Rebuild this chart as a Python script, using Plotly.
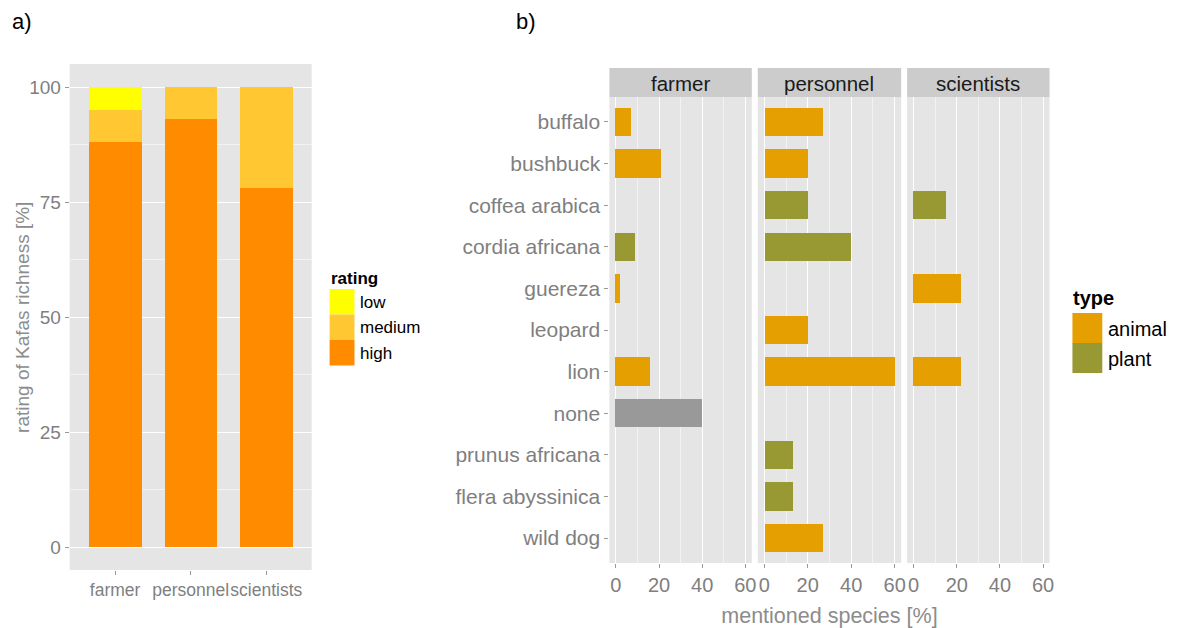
import plotly.graph_objects as go

# ---------------- data ----------------
groups = ["farmer", "personnel", "scientists"]
rating_high = [88, 93, 78]
rating_medium = [7, 7, 22]
rating_low = [5, 0, 0]

species = ["buffalo", "bushbuck", "coffea arabica", "cordia africana", "guereza",
           "leopard", "lion", "none", "prunus africana", "flera abyssinica", "wild dog"]
species_type = ["animal", "animal", "plant", "plant", "animal",
                "animal", "animal", "none", "plant", "plant", "animal"]
farmer_pct = [7, 21, None, 9, 2, None, 16, 40, None, None, None]
personnel_pct = [26.7, 20, 20, 40, None, 20, 60, None, 13.3, 13.3, 26.7]
scientists_pct = [None, None, 15, None, 22, None, 22, None, None, None, None]
x_ticks_b = [0, 20, 40, 60]
y_ticks_a = [0, 25, 50, 75, 100]

# ---------------- style ----------------
W, H = 1178, 628
FONT = "Liberation Sans, Arial, sans-serif"
GREY_TXT = "#7F7F7F"
rating_colors = {"low": "#FFFF00", "medium": "#FFC832", "high": "#FF8C00"}
type_colors = {"animal": "#E69F00", "plant": "#999933", "none": "#999999"}
PANEL_BG = "#E5E5E5"


def fx(px):
    return px / W


def fy(py):
    return 1 - py / H


fig = go.Figure()

# ---------------- panel a ----------------
for name, vals in [("high", rating_high), ("medium", rating_medium), ("low", rating_low)]:
    fig.add_trace(go.Bar(x=groups, y=vals, name=name, width=0.7,
                         marker=dict(color=rating_colors[name], line=dict(width=0)),
                         xaxis="x", yaxis="y", showlegend=False))

# ---------------- panel b ----------------
facet_data = [("x2", farmer_pct), ("x3", personnel_pct), ("x4", scientists_pct)]
for xa, vals in facet_data:
    for t in ["animal", "plant", "none"]:
        xs = [v if (st == t) else None for v, st in zip(vals, species_type)]
        if all(v is None for v in xs):
            continue
        fig.add_trace(go.Bar(x=xs, y=species, orientation="h", width=0.68, name=t,
                             marker=dict(color=type_colors[t], line=dict(width=0)),
                             xaxis=xa, yaxis="y2", showlegend=False))

tickfont_ax = dict(family=FONT, size=17.5, color=GREY_TXT)
tickfont_ay = dict(family=FONT, size=19, color=GREY_TXT)
tickfont_bx = dict(family=FONT, size=20, color=GREY_TXT)
tickfont_by = dict(family=FONT, size=21, color=GREY_TXT)

common_x_b = dict(range=[-3, 63], tickvals=x_ticks_b, ticks="outside", ticklen=4,
                  tickcolor="#999999", tickfont=tickfont_bx, tickangle=0, showgrid=True,
                  gridcolor="white", gridwidth=1.3, zeroline=False, anchor="y2",
                  minor=dict(dtick=10, tick0=0, showgrid=True, gridcolor="#F2F2F2",
                             gridwidth=0.6, ticks=""),
                  fixedrange=True)

fig.update_layout(
    width=W, height=H,
    margin=dict(l=0, r=0, t=0, b=0),
    paper_bgcolor="white", plot_bgcolor=PANEL_BG,
    barmode="stack", bargap=0,
    font=dict(family=FONT, color="#1A1A1A"),
    xaxis=dict(domain=[fx(70), fx(313)], anchor="y", type="category",
               categoryorder="array", categoryarray=groups, range=[-0.6, 2.6],
               ticks="outside", ticklen=4, tickcolor="#999999", tickfont=tickfont_ax,
               tickangle=0, showgrid=False, zeroline=False),
    yaxis=dict(domain=[fy(570), fy(64)], anchor="x", range=[-5, 105],
               tickvals=y_ticks_a, ticks="outside", ticklen=4, tickcolor="#999999",
               tickfont=tickfont_ay, showgrid=True, gridcolor="white", gridwidth=1.3,
               zeroline=False,
               minor=dict(dtick=12.5, tick0=0, showgrid=True, gridcolor="#F2F2F2",
                          gridwidth=0.6, ticks="")),
    xaxis2=dict(domain=[fx(612), fx(755)], **common_x_b),
    xaxis3=dict(domain=[fx(761), fx(905)],
                title=dict(text="mentioned species [%]",
                           font=dict(family=FONT, size=21.5, color="#8C8C8C"), standoff=14),
                **common_x_b),
    xaxis4=dict(domain=[fx(911), fx(1054)], **common_x_b),
    yaxis2=dict(domain=[fy(563), fy(97)], anchor="x2", type="category",
                categoryorder="array", categoryarray=species, range=[10.6, -0.6],
                ticks="outside", ticklen=4, tickcolor="#999999", tickfont=tickfont_by,
                showgrid=False, zeroline=False),
)

shapes = []
annotations = []

# y-axis title of panel a
annotations.append(dict(xref="paper", yref="paper", x=fx(22), y=fy(317),
                        text="rating of Kafas richness [%]", textangle=-90,
                        showarrow=False, xanchor="center", yanchor="middle",
                        font=dict(family=FONT, size=19, color="#8C8C8C")))

# facet strips
for (x0, x1), label in zip([(612, 755), (761, 905), (911, 1054)], groups):
    shapes.append(dict(type="rect", xref="paper", yref="paper", x0=fx(x0), x1=fx(x1),
                       y0=fy(97), y1=fy(68), fillcolor="#CCCCCC", line=dict(width=0),
                       layer="below"))
    annotations.append(dict(xref="paper", yref="paper", x=fx((x0 + x1) / 2), y=fy(83),
                            text=label, showarrow=False, xanchor="center", yanchor="middle",
                            font=dict(family=FONT, size=20.5, color="#1A1A1A")))

# panel labels
annotations.append(dict(xref="paper", yref="paper", x=fx(10), y=fy(22), text="a)",
                        showarrow=False, xanchor="left", yanchor="middle",
                        font=dict(family=FONT, size=22, color="black")))
annotations.append(dict(xref="paper", yref="paper", x=fx(516), y=fy(22), text="b)",
                        showarrow=False, xanchor="left", yanchor="middle",
                        font=dict(family=FONT, size=22, color="black")))

# legend a (rating)
annotations.append(dict(xref="paper", yref="paper", x=fx(330), y=fy(278), text="<b>rating</b>",
                        showarrow=False, xanchor="left", yanchor="middle",
                        font=dict(family=FONT, size=17, color="black")))
for i, name in enumerate(["low", "medium", "high"]):
    y0 = 289 + i * 25.5
    shapes.append(dict(type="rect", xref="paper", yref="paper", x0=fx(331), x1=fx(356),
                       y0=fy(y0 + 25.5), y1=fy(y0), fillcolor=rating_colors[name],
                       line=dict(width=0)))
    annotations.append(dict(xref="paper", yref="paper", x=fx(360), y=fy(y0 + 13), text=name,
                            showarrow=False, xanchor="left", yanchor="middle",
                            font=dict(family=FONT, size=17, color="black")))

# legend b (type)
annotations.append(dict(xref="paper", yref="paper", x=fx(1076), y=fy(298), text="<b>type</b>",
                        showarrow=False, xanchor="left", yanchor="middle",
                        font=dict(family=FONT, size=20, color="black")))
for i, name in enumerate(["animal", "plant"]):
    y0 = 313 + i * 30
    shapes.append(dict(type="rect", xref="paper", yref="paper", x0=fx(1077), x1=fx(1107),
                       y0=fy(y0 + 30), y1=fy(y0), fillcolor=type_colors[name],
                       line=dict(width=0)))
    annotations.append(dict(xref="paper", yref="paper", x=fx(1111), y=fy(y0 + 16), text=name,
                            showarrow=False, xanchor="left", yanchor="middle",
                            font=dict(family=FONT, size=20, color="black")))

fig.update_layout(shapes=shapes, annotations=annotations)

fig.write_html("out.html", config={"displayModeBar": False},
               post_script="document.body.style.margin='0';"
                           "document.body.style.overflow='hidden';")
